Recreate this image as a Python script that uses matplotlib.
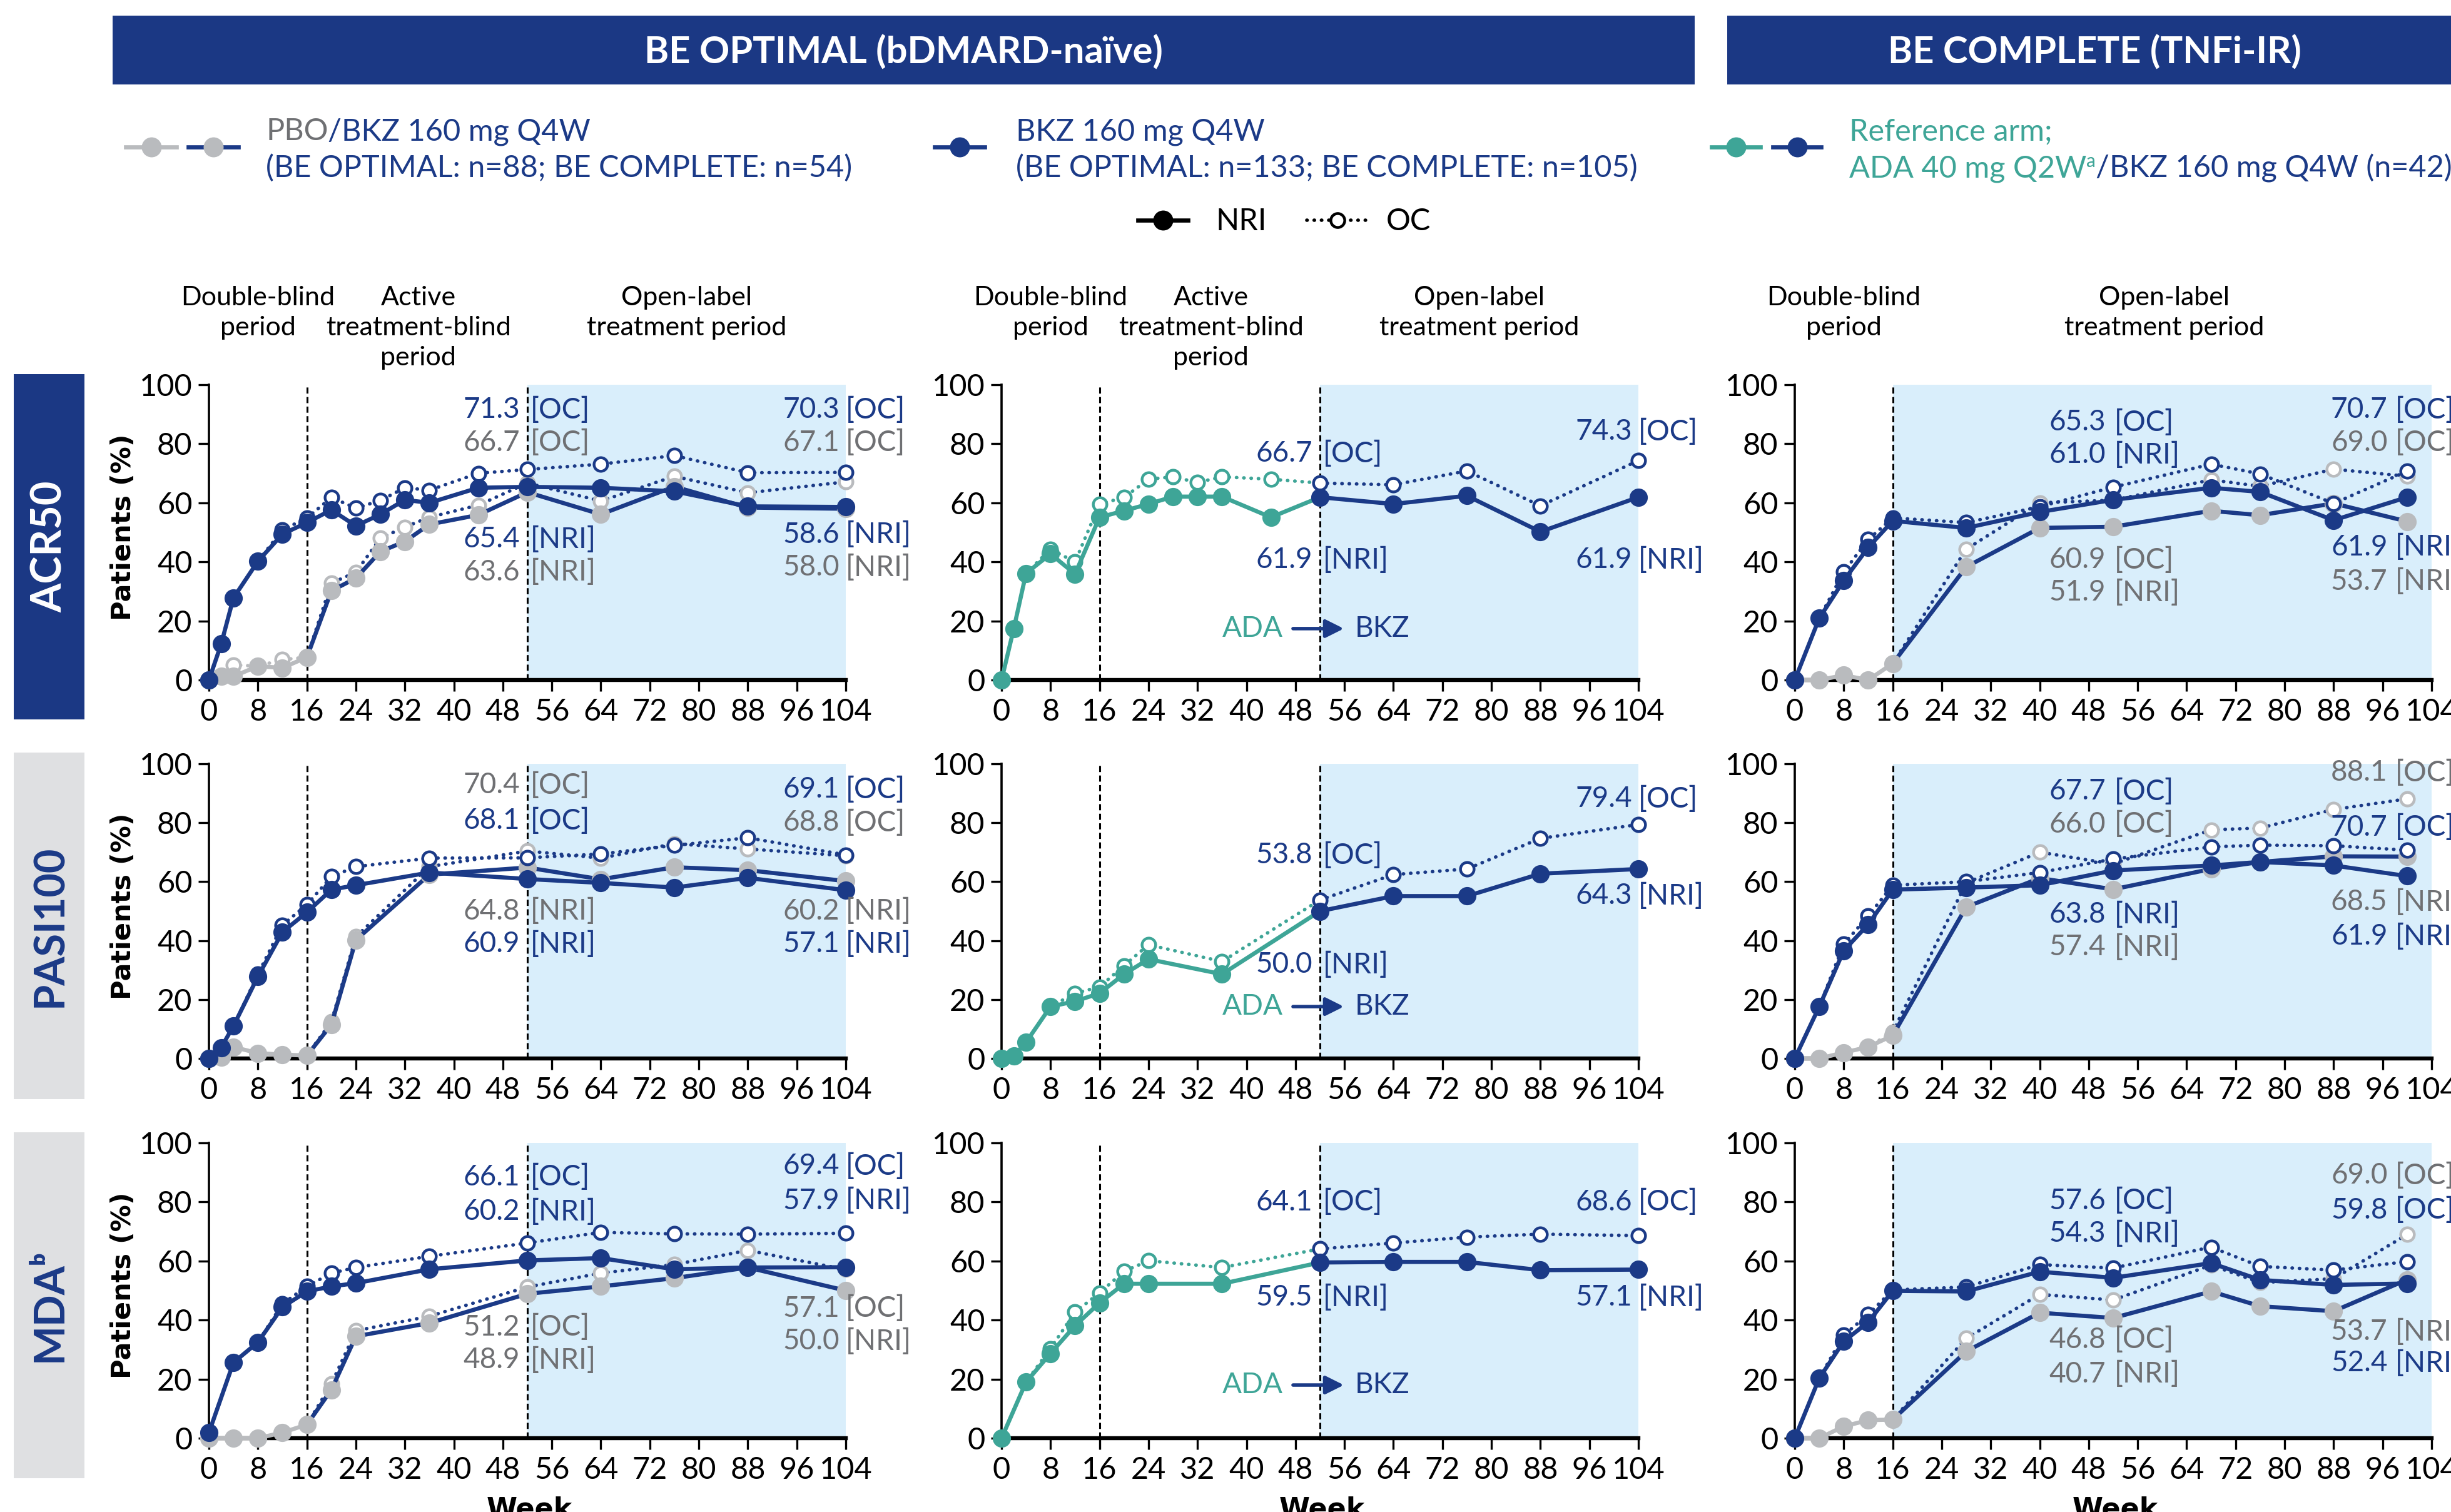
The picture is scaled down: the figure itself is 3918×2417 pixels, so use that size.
import numpy as np
import matplotlib.pyplot as plt
from matplotlib.patches import Rectangle

plt.rcParams['font.family'] = ['Lato', 'DejaVu Sans']

W, H = 3918, 2417
DPI = 200

NAVY = '#1b3884'
BLUE = '#1b3a87'
GRAY = '#b9bbbe'
GRAY_TXT = '#6f7073'
TEAL = '#3ea597'
SHADE = '#d9eefb'
BOX_GRAY = '#dfe0e2'

# ── DATA ──────────────────────────────────────────────────────────────────────
# BE OPTIMAL (bDMARD-naive) weeks per outcome
ACR50_WEEKS = [0, 2, 4, 8, 12, 16, 20, 24, 28, 32, 36, 44, 52, 64, 76, 88, 104]
PASI_WEEKS = [0, 2, 4, 8, 12, 16, 20, 24, 36, 52, 64, 76, 88, 104]
MDA_WEEKS = [0, 4, 8, 12, 16, 20, 24, 36, 52, 64, 76, 88, 104]
# BE COMPLETE (TNFi-IR) weeks
TNF_WEEKS = [0, 4, 8, 12, 16, 28, 40, 52, 68, 76, 88, 100]

# ACR50 - BE OPTIMAL
ACR50_PBO_NRI = [0, 1.2, 1.2, 4.7, 4.1, 7.7, 30.2, 34.5, 43.5, 46.9, 52.7, 55.9, 63.6, 56.1, 65.5, 58.4, 58.0]
ACR50_PBO_OC = [0, 1.2, 5.1, 4.7, 6.9, 7.7, 32.8, 36.5, 48.0, 51.8, 55.1, 59.2, 66.7, 60.6, 69.0, 63.4, 67.1]
ACR50_BKZ_NRI = [0, 12.2, 27.8, 40.2, 49.4, 53.3, 57.6, 52.2, 56.1, 61.0, 60.0, 65.1, 65.4, 65.1, 63.9, 58.8, 58.6]
ACR50_BKZ_OC = [0, 12.2, 27.8, 40.2, 50.8, 54.9, 61.8, 58.2, 60.8, 65.1, 64.3, 70.0, 71.3, 73.1, 76.0, 70.2, 70.3]
ACR50_ADA_NRI = [0, 17.4, 36.1, 42.7, 35.9, 55.1, 57.3, 59.6, 62.1, 62.1, 62.1, 55.1, 61.9, 59.6, 62.4, 50.2, 61.9]
ACR50_ADA_OC = [0, 17.4, 36.1, 44.3, 40.0, 59.6, 61.8, 68.0, 68.8, 66.9, 68.8, 68.0, 66.7, 66.1, 70.8, 59.0, 74.3]
# ACR50 - BE COMPLETE
ACR50_TNF_PBO_NRI = [0, 0, 1.6, 0, 5.6, 38.3, 51.5, 51.9, 57.3, 55.8, 59.8, 53.7]
ACR50_TNF_PBO_OC = [0, 0, 1.6, 0, 5.6, 44.3, 60.0, 60.9, 67.8, 65.6, 71.4, 69.0]
ACR50_TNF_BKZ_NRI = [0, 20.9, 33.7, 44.9, 53.9, 51.5, 56.9, 61.0, 65.1, 63.7, 54.1, 61.9]
ACR50_TNF_BKZ_OC = [0, 20.9, 36.6, 47.6, 54.9, 53.3, 58.7, 65.3, 73.1, 69.8, 59.8, 70.7]

# PASI100 - BE OPTIMAL
PASI_PBO_NRI = [0, 0.5, 3.9, 1.8, 1.3, 1.0, 11.5, 40.2, 62.4, 64.8, 60.8, 64.9, 63.9, 60.2]
PASI_PBO_OC = [0, 0.5, 3.9, 1.8, 1.3, 1.0, 12.5, 41.3, 65.1, 70.4, 68.0, 72.9, 71.1, 68.8]
PASI_BKZ_NRI = [0, 3.7, 11.0, 27.8, 42.9, 49.6, 57.3, 58.8, 63.1, 60.9, 59.6, 58.0, 61.3, 57.1]
PASI_BKZ_OC = [0, 3.7, 11.0, 28.6, 45.3, 52.2, 61.7, 65.1, 68.0, 68.1, 69.4, 72.3, 74.9, 69.1]
PASI_ADA_NRI = [0, 0.8, 5.5, 17.6, 19.4, 22.1, 28.6, 33.7, 28.6, 50.0, 55.1, 55.1, 62.7, 64.3]
PASI_ADA_OC = [0, 0.8, 5.5, 17.6, 22.1, 24.3, 31.5, 38.6, 32.9, 53.8, 62.4, 64.3, 74.7, 79.4]
# PASI100 - BE COMPLETE
PASI_TNF_PBO_NRI = [0, 0, 2.0, 3.9, 7.8, 51.4, 61.2, 57.4, 64.3, 66.7, 68.6, 68.5]
PASI_TNF_PBO_OC = [0, 0, 2.0, 3.9, 9.0, 59.6, 70.0, 66.0, 77.6, 78.2, 84.5, 88.1]
PASI_TNF_BKZ_NRI = [0, 17.6, 36.6, 45.5, 57.3, 58.0, 58.8, 63.8, 65.5, 66.7, 65.5, 61.9]
PASI_TNF_BKZ_OC = [0, 17.6, 38.8, 48.4, 58.8, 60.0, 63.1, 67.7, 71.8, 72.4, 72.2, 70.7]

# MDA - BE OPTIMAL
MDA_PBO_NRI = [0, 0, 0, 1.9, 4.6, 16.4, 34.5, 39.0, 48.9, 51.4, 54.2, 57.8, 50.0]
MDA_PBO_OC = [0, 0, 0, 1.9, 4.6, 18.4, 36.4, 41.3, 51.2, 55.9, 58.8, 63.6, 57.1]
MDA_BKZ_NRI = [1.9, 25.6, 32.5, 44.4, 49.7, 51.4, 52.5, 57.2, 60.2, 61.0, 57.2, 57.8, 57.9]
MDA_BKZ_OC = [1.9, 25.6, 32.5, 45.5, 51.4, 55.9, 57.8, 61.6, 66.1, 69.7, 69.2, 69.1, 69.4]
MDA_ADA_NRI = [0, 19.0, 28.7, 38.1, 45.8, 52.3, 52.3, 52.3, 59.5, 59.7, 59.7, 56.9, 57.1]
MDA_ADA_OC = [0, 19.0, 30.4, 42.7, 49.2, 56.5, 60.1, 57.8, 64.1, 66.1, 68.1, 69.1, 68.6]
# MDA - BE COMPLETE
MDA_TNF_PBO_NRI = [0, 0, 4.0, 6.1, 6.3, 29.4, 42.5, 40.7, 49.7, 44.7, 43.0, 53.7]
MDA_TNF_PBO_OC = [0, 0, 4.0, 6.1, 6.3, 33.8, 48.7, 46.8, 58.6, 52.7, 54.0, 69.0]
MDA_TNF_BKZ_NRI = [0, 20.3, 32.8, 39.3, 49.9, 49.7, 56.4, 54.3, 59.3, 53.6, 51.9, 52.4]
MDA_TNF_BKZ_OC = [0, 20.3, 34.9, 41.9, 50.2, 51.2, 58.8, 57.6, 64.7, 58.2, 56.9, 59.8]

# value labels: (position, y, value, tag, colour key)
ACR50_OPT_LABELS = [('mid', 91.5, '71.3', '[OC]', 'b'), ('mid', 80.4, '66.7', '[OC]', 'g'),
                    ('mid', 47.6, '65.4', '[NRI]', 'b'), ('mid', 36.5, '63.6', '[NRI]', 'g'),
                    ('end', 91.5, '70.3', '[OC]', 'b'), ('end', 80.4, '67.1', '[OC]', 'g'),
                    ('end', 49.2, '58.6', '[NRI]', 'b'), ('end', 38.1, '58.0', '[NRI]', 'g')]
ACR50_ADA_LABELS = [('mid', 76.7, '66.7', '[OC]', 'b'), ('end', 84.1, '74.3', '[OC]', 'b'),
                    ('mid', 40.7, '61.9', '[NRI]', 'b'), ('end', 40.7, '61.9', '[NRI]', 'b')]
ACR50_TNF_LABELS = [('mid', 87.3, '65.3', '[OC]', 'b'), ('mid', 76.2, '61.0', '[NRI]', 'b'),
                    ('mid', 40.7, '60.9', '[OC]', 'g'), ('mid', 29.6, '51.9', '[NRI]', 'g'),
                    ('end', 91.5, '70.7', '[OC]', 'b'), ('end', 80.4, '69.0', '[OC]', 'g'),
                    ('end', 45.0, '61.9', '[NRI]', 'b'), ('end', 33.3, '53.7', '[NRI]', 'g')]
PASI_OPT_LABELS = [('mid', 92.8, '70.4', '[OC]', 'g'), ('mid', 80.6, '68.1', '[OC]', 'b'),
                   ('mid', 50.0, '64.8', '[NRI]', 'g'), ('mid', 38.8, '60.9', '[NRI]', 'b'),
                   ('end', 91.2, '69.1', '[OC]', 'b'), ('end', 80.0, '68.8', '[OC]', 'g'),
                   ('end', 50.0, '60.2', '[NRI]', 'g'), ('end', 38.8, '57.1', '[NRI]', 'b')]
PASI_ADA_LABELS = [('mid', 69.0, '53.8', '[OC]', 'b'), ('end', 88.1, '79.4', '[OC]', 'b'),
                   ('end', 55.2, '64.3', '[NRI]', 'b'), ('mid', 31.8, '50.0', '[NRI]', 'b')]
PASI_TNF_LABELS = [('mid', 90.6, '67.7', '[OC]', 'b'), ('mid', 79.5, '66.0', '[OC]', 'g'),
                   ('mid', 48.8, '63.8', '[NRI]', 'b'), ('mid', 37.7, '57.4', '[NRI]', 'g'),
                   ('end', 97.0, '88.1', '[OC]', 'g'), ('end', 78.4, '70.7', '[OC]', 'b'),
                   ('end', 53.0, '68.5', '[NRI]', 'g'), ('end', 41.4, '61.9', '[NRI]', 'b')]
MDA_OPT_LABELS = [('mid', 88.4, '66.1', '[OC]', 'b'), ('mid', 76.7, '60.2', '[NRI]', 'b'),
                  ('mid', 37.6, '51.2', '[OC]', 'g'), ('mid', 26.5, '48.9', '[NRI]', 'g'),
                  ('end', 92.1, '69.4', '[OC]', 'b'), ('end', 80.4, '57.9', '[NRI]', 'b'),
                  ('end', 43.9, '57.1', '[OC]', 'g'), ('end', 32.8, '50.0', '[NRI]', 'g')]
MDA_ADA_LABELS = [('mid', 79.9, '64.1', '[OC]', 'b'), ('end', 79.9, '68.6', '[OC]', 'b'),
                  ('mid', 47.6, '59.5', '[NRI]', 'b'), ('end', 47.6, '57.1', '[NRI]', 'b')]
MDA_TNF_LABELS = [('mid', 80.4, '57.6', '[OC]', 'b'), ('mid', 69.3, '54.3', '[NRI]', 'b'),
                  ('mid', 33.3, '46.8', '[OC]', 'g'), ('mid', 21.7, '40.7', '[NRI]', 'g'),
                  ('end', 88.9, '69.0', '[OC]', 'g'), ('end', 77.2, '59.8', '[OC]', 'b'),
                  ('end', 36.0, '53.7', '[NRI]', 'g'), ('end', 25.4, '52.4', '[NRI]', 'b')]

ADA_ARROW_Y = [17.4, 17.6, 18.0]
ROW_NAMES = ['ACR50', 'PASI100', 'MDAᵇ']
X_TICKS = list(range(0, 105, 8))
Y_TICKS = [0, 20, 40, 60, 80, 100]

# ── LAYOUT (pixels) ───────────────────────────────────────────────────────────
COL_L = [334, 1601, 2869]
COL_R = [1352, 2619, 3887]
ROW_T = [615, 1221, 1827]
ROW_B = [1087, 1692, 2299]
LABEL_X = {0: {'mid': (50.8, 52.5), 'end': (103.0, 104.0)},
           1: {'mid': (50.8, 52.5), 'end': (103.0, 104.0)},
           2: {'mid': (50.8, 52.2), 'end': (96.8, 98.1)}}
TXT = {'b': BLUE, 'g': GRAY_TXT}
ANN_FS = 16.5

fig = plt.figure(figsize=(W / DPI, H / DPI), dpi=DPI)
ov = fig.add_axes([0, 0, 1, 1])
ov.set_xlim(0, W)
ov.set_ylim(H, 0)
ov.axis('off')
renderer = fig.canvas.get_renderer()


def add_series(ax, wk, val, sw, lc1, lc2, mc1, mc2, oc, z):
    wk = np.asarray(wk, float)
    val = np.asarray(val, float)
    a, b = wk <= sw, wk >= sw
    if oc:
        lkw = dict(lw=2.0, linestyle=(0, (0.1, 2.0)), dash_capstyle='round')
    else:
        lkw = dict(lw=2.4, linestyle='-')
    ax.plot(wk[a], val[a], color=lc1, zorder=z, clip_on=False, **lkw)
    ax.plot(wk[b], val[b], color=lc2, zorder=z, clip_on=False, **lkw)
    for mask, mc in ((wk < sw, mc1), (wk >= sw, mc2)):
        if oc:
            ax.plot(wk[mask], val[mask], ls='none', marker='o', ms=7.8, mfc='white',
                    mec=mc, mew=1.6, zorder=z + 0.1, clip_on=False)
        else:
            ax.plot(wk[mask], val[mask], ls='none', marker='o', ms=9.5, color=mc,
                    zorder=z + 0.1, clip_on=False)


def style_axes(ax, shade_from, dashes):
    ax.set_xlim(0, 104)
    ax.set_ylim(0, 100)
    ax.axvspan(shade_from, 104, color=SHADE, lw=0, zorder=0)
    for d in dashes:
        ax.plot([d, d], [0, 100], color='black', lw=1.1, ls=(0, (3.2, 1.8)), zorder=1)
    for s in ('top', 'right'):
        ax.spines[s].set_visible(False)
    ax.spines['left'].set_linewidth(1.3)
    ax.spines['bottom'].set_linewidth(2.3)
    ax.spines['bottom'].set_zorder(2)
    ax.set_xticks(X_TICKS)
    ax.set_yticks(Y_TICKS)
    ax.tick_params(axis='y', length=6, width=1.2, pad=3.5, labelsize=17.5)
    ax.tick_params(axis='x', length=6.5, width=1.2, pad=4.0, labelsize=17.5)
    ax.set_facecolor('none')


def add_labels(ax, col, labels):
    for pos, y, num, tag, ck in labels:
        xn, xt = LABEL_X[col][pos]
        ax.text(xn, y, num, ha='right', va='center', color=TXT[ck], fontsize=ANN_FS,
                clip_on=False, zorder=6)
        ax.text(xt, y, tag, ha='left', va='center', color=TXT[ck], fontsize=ANN_FS,
                clip_on=False, zorder=6)


def new_axes(r, c):
    l, rr = COL_L[c] / W, COL_R[c] / W
    b, t = 1 - ROW_B[r] / H, 1 - ROW_T[r] / H
    return fig.add_axes([l, b, rr - l, t - b])


rows = [
    (ACR50_WEEKS, ACR50_PBO_NRI, ACR50_PBO_OC, ACR50_BKZ_NRI, ACR50_BKZ_OC, ACR50_ADA_NRI, ACR50_ADA_OC,
     ACR50_TNF_PBO_NRI, ACR50_TNF_PBO_OC, ACR50_TNF_BKZ_NRI, ACR50_TNF_BKZ_OC,
     ACR50_OPT_LABELS, ACR50_ADA_LABELS, ACR50_TNF_LABELS),
    (PASI_WEEKS, PASI_PBO_NRI, PASI_PBO_OC, PASI_BKZ_NRI, PASI_BKZ_OC, PASI_ADA_NRI, PASI_ADA_OC,
     PASI_TNF_PBO_NRI, PASI_TNF_PBO_OC, PASI_TNF_BKZ_NRI, PASI_TNF_BKZ_OC,
     PASI_OPT_LABELS, PASI_ADA_LABELS, PASI_TNF_LABELS),
    (MDA_WEEKS, MDA_PBO_NRI, MDA_PBO_OC, MDA_BKZ_NRI, MDA_BKZ_OC, MDA_ADA_NRI, MDA_ADA_OC,
     MDA_TNF_PBO_NRI, MDA_TNF_PBO_OC, MDA_TNF_BKZ_NRI, MDA_TNF_BKZ_OC,
     MDA_OPT_LABELS, MDA_ADA_LABELS, MDA_TNF_LABELS),
]

PERIOD_FS = 15.5
for r, (wk, pn, po, bn, bo, an, ao, tpn, tpo, tbn, tbo, lab1, lab2, lab3) in enumerate(rows):
    # BE OPTIMAL: PBO -> BKZ and BKZ
    ax = new_axes(r, 0)
    style_axes(ax, 52, [16, 52])
    add_series(ax, wk, po, 16, GRAY, BLUE, GRAY, GRAY, True, 3)
    add_series(ax, wk, pn, 16, GRAY, BLUE, GRAY, GRAY, False, 3.5)
    add_series(ax, wk, bo, 16, BLUE, BLUE, BLUE, BLUE, True, 4)
    add_series(ax, wk, bn, 16, BLUE, BLUE, BLUE, BLUE, False, 4.5)
    add_labels(ax, 0, lab1)

    # BE OPTIMAL: reference arm ADA -> BKZ
    ax2 = new_axes(r, 1)
    style_axes(ax2, 52, [16, 52])
    add_series(ax2, wk, ao, 52, TEAL, BLUE, TEAL, BLUE, True, 3)
    add_series(ax2, wk, an, 52, TEAL, BLUE, TEAL, BLUE, False, 3.5)
    add_labels(ax2, 1, lab2)
    ya = ADA_ARROW_Y[r]
    ax2.text(46.0, ya, 'ADA', ha='right', va='center', color=TEAL, fontsize=ANN_FS)
    ax2.text(57.7, ya, 'BKZ', ha='left', va='center', color=BLUE, fontsize=ANN_FS)
    ax2.annotate('', xy=(55.9, ya), xytext=(47.6, ya),
                 arrowprops=dict(arrowstyle='-|>', color=BLUE, lw=2.0, mutation_scale=22,
                                 shrinkA=0, shrinkB=0))

    # BE COMPLETE
    ax3 = new_axes(r, 2)
    style_axes(ax3, 16, [16])
    add_series(ax3, TNF_WEEKS, tpo, 16, GRAY, BLUE, GRAY, GRAY, True, 3)
    add_series(ax3, TNF_WEEKS, tpn, 16, GRAY, BLUE, GRAY, GRAY, False, 3.5)
    add_series(ax3, TNF_WEEKS, tbo, 16, BLUE, BLUE, BLUE, BLUE, True, 4)
    add_series(ax3, TNF_WEEKS, tbn, 16, BLUE, BLUE, BLUE, BLUE, False, 4.5)
    add_labels(ax3, 2, lab3)

    if r == 0:
        for a in (ax, ax2):
            for x, s in ((8, 'Double-blind\nperiod'), (34.2, 'Active\ntreatment-blind\nperiod'),
                         (78, 'Open-label\ntreatment period')):
                a.text(x, 133.5, s, ha='center', va='top', fontsize=PERIOD_FS, linespacing=1.32,
                       clip_on=False)
        for x, s in ((8, 'Double-blind\nperiod'), (60.3, 'Open-label\ntreatment period')):
            ax3.text(x, 133.5, s, ha='center', va='top', fontsize=PERIOD_FS, linespacing=1.32,
                     clip_on=False)

# ── DECORATION ────────────────────────────────────────────────────────────────
ov.add_patch(Rectangle((180, 25), 2529, 110, color=NAVY, lw=0))
ov.add_patch(Rectangle((2761, 25), 1200, 110, color=NAVY, lw=0))
ov.text(1444, 84, 'BE OPTIMAL (bDMARD-naïve)', color='white', fontsize=21.5,
        fontweight='bold', ha='center', va='center')
ov.text(3348, 84, 'BE COMPLETE (TNFi-IR)', color='white', fontsize=21.5,
        fontweight='bold', ha='center', va='center')

box_cols = [NAVY, BOX_GRAY, BOX_GRAY]
box_txt = ['white', BLUE, BLUE]
box_y = [(598, 1150), (1203, 1757), (1810, 2363)]
for i, (y0, y1) in enumerate(box_y):
    ov.add_patch(Rectangle((22, y0), 113, y1 - y0, color=box_cols[i], lw=0))
    ov.text(80, (y0 + y1) / 2, ROW_NAMES[i], rotation=90, color=box_txt[i], fontsize=24,
            fontweight='bold', ha='center', va='center')
    ov.text(197, (ROW_T[i] + ROW_B[i]) / 2 - 8, 'Patients (%)', rotation=90, fontsize=15.5,
            fontweight='bold', family='DejaVu Sans', ha='center', va='center')

for c in range(3):
    ov.text((COL_L[c] + COL_R[c]) / 2 + 3, 2391, 'Week', fontsize=16, fontweight='bold',
            family='DejaVu Sans', ha='center', va='top')


def legend_sym(x0, x1, y, lc, mc, oc=False):
    if oc:
        ov.plot([x0, x1], [y, y], color=lc, lw=2.0, ls=(0, (0.1, 2.0)), dash_capstyle='round')
        ov.plot([(x0 + x1) / 2], [y], marker='o', ms=8, mfc='white', mec=mc, mew=1.6)
    else:
        ov.plot([x0, x1], [y, y], color=lc, lw=2.4)
        ov.plot([(x0 + x1) / 2], [y], marker='o', ms=10.5, color=mc)


LEG_FS = 17.5


def text_run(x, y, pieces, size=LEG_FS):
    for s, col, sup in pieces:
        fs = size * 0.62 if sup else size
        t = ov.text(x, y - (16 if sup else 0), s, color=col, fontsize=fs, va='baseline', ha='left')
        x += t.get_window_extent(renderer).width


legend_sym(201, 282, 235, GRAY, GRAY)
legend_sym(301, 381, 235, BLUE, GRAY)
text_run(425, 224, [('PBO', GRAY_TXT, False), ('/BKZ 160 mg Q4W', BLUE, False)])
text_run(425, 283, [('(BE OPTIMAL: n=88; BE COMPLETE: n=54)', BLUE, False)])

legend_sym(1494, 1574, 235, BLUE, BLUE)
text_run(1624, 224, [('BKZ 160 mg Q4W', BLUE, False)])
text_run(1624, 283, [('(BE OPTIMAL: n=133; BE COMPLETE: n=105)', BLUE, False)])

legend_sym(2736, 2814, 235, TEAL, TEAL)
legend_sym(2834, 2911, 235, BLUE, BLUE)
text_run(2956, 224, [('Reference arm;', TEAL, False)])
text_run(2956, 283, [('ADA 40 mg Q2W', TEAL, False), ('a', TEAL, True),
                     ('/BKZ 160 mg Q4W (n=42)', BLUE, False)])

legend_sym(1819, 1899, 352, 'black', 'black')
ov.text(1944, 354, 'NRI', fontsize=LEG_FS, va='center', ha='left')
legend_sym(2089, 2186, 352, 'black', 'black', oc=True)
ov.text(2216, 354, 'OC', fontsize=LEG_FS, va='center', ha='left')

fig.savefig('out.png', dpi=DPI)
